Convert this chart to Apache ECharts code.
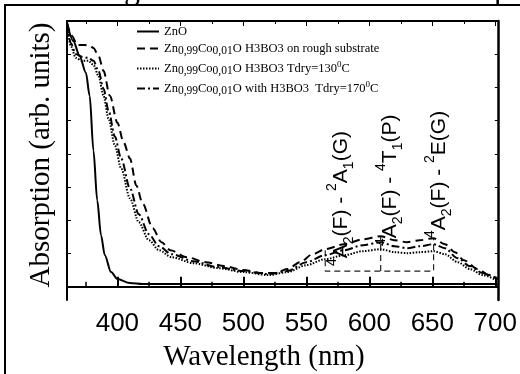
<!DOCTYPE html>
<html>
<head>
<meta charset="utf-8">
<script src="https://cdn.jsdelivr.net/npm/echarts@6/dist/echarts.min.js"></script>
<style>
	html, body { margin: 0; padding: 0; background: #fff; }
	#main { width: 520px; height: 374px; }
</style>
</head>
<body>
<div id="main"></div>
<script>
	// wavelength (nm) / absorption (arb. units)
	var znoX = [360, 365, 370, 375, 378, 381, 384, 387, 390, 395, 400, 410, 420, 450, 500, 550, 600, 650, 702];
	var znoY = [7.94, 7.4, 6.95, 6.44, 5.75, 4.1, 2.6, 1.55, 0.95, 0.44, 0.23, 0.11, 0.08, 0.08, 0.08, 0.08, 0.08, 0.08, 0.08];

	var roughX = [360, 364, 368, 374, 378, 381, 385, 389, 394, 400, 405, 410, 415, 420, 428, 435, 442, 455, 470, 485, 500, 515, 525, 535, 545, 555, 565, 580, 595, 609, 620, 630, 640, 651, 660, 668, 675, 686, 695, 702];
	var roughY = [7.94, 7.55, 7.28, 7.28, 7.25, 7.19, 6.95, 6.5, 5.75, 4.94, 4.34, 3.86, 3.05, 2.51, 1.76, 1.34, 1.1, 0.89, 0.74, 0.62, 0.5, 0.41, 0.41, 0.53, 0.74, 0.98, 1.13, 1.28, 1.43, 1.52, 1.4, 1.34, 1.4, 1.46, 1.28, 1.04, 0.8, 0.53, 0.35, 0.23];

	var t130X = [360, 363, 367, 372, 377, 381, 385, 389, 393, 398, 403, 410, 417, 425, 433, 443, 460, 480, 500, 520, 535, 550, 565, 580, 595, 609, 620, 630, 640, 651, 660, 670, 680, 690, 702];
	var t130Y = [7.94, 7.25, 6.89, 6.8, 6.8, 6.68, 6.35, 5.75, 5.06, 4.25, 3.56, 2.66, 1.94, 1.4, 1.1, 0.89, 0.71, 0.56, 0.44, 0.35, 0.44, 0.65, 0.83, 0.95, 1.07, 1.13, 1.04, 1.01, 1.04, 1.07, 0.98, 0.74, 0.53, 0.35, 0.17];

	var t170X = [360, 363, 367, 372, 377, 381, 385, 389, 393, 398, 403, 410, 417, 425, 433, 443, 460, 480, 500, 520, 535, 550, 565, 580, 595, 609, 620, 630, 640, 651, 660, 670, 680, 690, 702];
	var t170Y = [7.94, 7.34, 7.01, 6.92, 6.89, 6.8, 6.5, 5.96, 5.3, 4.52, 3.86, 2.96, 2.18, 1.58, 1.22, 0.98, 0.77, 0.59, 0.47, 0.38, 0.47, 0.74, 0.95, 1.1, 1.25, 1.34, 1.22, 1.16, 1.22, 1.28, 1.16, 0.86, 0.62, 0.41, 0.23];

	// dashed bracket under the three Co2+ bands
	var boxX = [565, 565, 651, 651];
	var boxY = [1.1, 0.47, 0.47, 1.46];
	var midX = [609, 609];
	var midY = [0.47, 1.52];

	var xMajor = [400, 450, 500, 550, 600, 650, 700];
	var xMinor = [375, 425, 475, 525, 575, 625, 675];
	var yTicks = [0, 1, 2, 3, 4, 5, 6, 7];

	var names = ['ZnO', 'rough', 't130', 't170'];
	var legendText = {
		'ZnO': '{m|ZnO}',
		'rough': '{m|Zn}{s|0,99}{m|Co}{s|0,01}{m|O H3BO3 on rough substrate}',
		't130': '{m|Zn}{s|0,99}{m|Co}{s|0,01}{m|O H3BO3 Tdry=130}{p|0}{m|C}',
		't170': '{m|Zn}{s|0,99}{m|Co}{s|0,01}{m|O with H3BO3  Tdry=170}{p|0}{m|C}'
	};

	var bandLabels = [
		'{p|4}{m|A}{b|2}{m|(F) - }{p|2}{m|A}{b|1}{m|(G)}',
		'{p|4}{m|A}{b|2}{m|(F) - }{p|4}{m|T}{b|1}{m|(P)}',
		'{p|4}{m|A}{b|2}{m|(F) - }{p|2}{m|E(G)}'
	];

	function pairs(xs, ys) {
		var out = [];
		for (var i = 0; i < xs.length; i++) {
			out.push([xs[i], ys[i]]);
		}
		return out;
	}

	var serif = '"Liberation Serif", "Times New Roman", serif';
	var sans = '"Liberation Sans", Arial, sans-serif';

	var bandRich = {
		m: { fontFamily: sans, fontSize: 21, color: '#000', lineHeight: 31, verticalAlign: 'middle' },
		p: { fontFamily: sans, fontSize: 14, color: '#000', lineHeight: 31, verticalAlign: 'top' },
		b: { fontFamily: sans, fontSize: 14, color: '#000', lineHeight: 31, verticalAlign: 'bottom' }
	};

	function bandText(txt, x, y) {
		return {
			type: 'text',
			x: x,
			y: y,
			rotation: Math.PI / 2,
			style: {
				text: txt,
				rich: bandRich,
				align: 'left',
				verticalAlign: 'middle',
				fill: '#000'
			}
		};
	}

	function lineSeries(name, data, type, width) {
		return {
			name: name,
			type: 'line',
			data: data,
			symbol: 'none',
			smooth: 0.3,
			smoothMonotone: 'x',
			itemStyle: { color: '#000' },
			lineStyle: { color: '#000', width: width, type: type },
			z: 3
		};
	}

	var myChart = echarts.init(document.getElementById('main'), null, { renderer: 'canvas' });

	var option = {
		animation: false,
		backgroundColor: '#fff',
		grid: { left: 67, right: 20, top: 21, bottom: 74 },
		legend: {
			data: names,
			orient: 'vertical',
			left: 131,
			top: 20,
			itemWidth: 22,
			itemHeight: 14,
			itemGap: 4,
			itemStyle: { color: 'rgba(0,0,0,0)', borderColor: 'rgba(0,0,0,0)', borderWidth: 0 },
			formatter: function(name) {
				return legendText[name];
			},
			textStyle: {
				fontFamily: serif,
				fontSize: 12.5,
				color: '#000',
				rich: {
					m: { fontFamily: serif, fontSize: 12.5, color: '#000', lineHeight: 16, verticalAlign: 'middle' },
					s: { fontFamily: serif, fontSize: 11.5, color: '#000', lineHeight: 16, verticalAlign: 'bottom' },
					p: { fontFamily: serif, fontSize: 9, color: '#000', lineHeight: 16, verticalAlign: 'top' }
				}
			}
		},
		xAxis: [
			{
				type: 'value', min: 360, max: 702, position: 'bottom',
				axisLine: { lineStyle: { color: '#000', width: 2 } },
				axisTick: { inside: true, length: 10, customValues: xMajor, lineStyle: { color: '#000', width: 2 } },
				axisLabel: { customValues: xMajor, margin: 11, fontFamily: sans, fontSize: 26, color: '#000' },
				splitLine: { show: false }
			},
			{
				type: 'value', min: 360, max: 702, position: 'bottom',
				axisLine: { show: false },
				axisTick: { inside: true, length: 5, customValues: xMinor, lineStyle: { color: '#000', width: 1.5 } },
				axisLabel: { show: false },
				splitLine: { show: false }
			},
			{
				type: 'value', min: 360, max: 702, position: 'top',
				axisLine: { lineStyle: { color: '#000', width: 2 } },
				axisTick: { inside: true, length: 5, customValues: xMajor, lineStyle: { color: '#000', width: 1 } },
				axisLabel: { show: false },
				splitLine: { show: false }
			},
			{
				type: 'value', min: 360, max: 702, position: 'top',
				axisLine: { show: false },
				axisTick: { inside: true, length: 3, customValues: xMinor, lineStyle: { color: '#000', width: 1 } },
				axisLabel: { show: false },
				splitLine: { show: false }
			}
		],
		yAxis: [
			{
				type: 'value', min: -0.4, max: 8, position: 'left',
				axisLine: { show: true, lineStyle: { color: '#000', width: 2 } },
				axisTick: { show: true, inside: true, length: 4, customValues: yTicks, lineStyle: { color: '#000', width: 1 } },
				axisLabel: { show: false },
				splitLine: { show: false }
			},
			{
				type: 'value', min: -0.4, max: 8, position: 'right',
				axisLine: { show: true, lineStyle: { color: '#000', width: 2.5 } },
				axisTick: { show: true, inside: true, length: 3, customValues: yTicks, lineStyle: { color: '#000', width: 1 } },
				axisLabel: { show: false },
				splitLine: { show: false }
			}
		],
		series: [
			lineSeries('ZnO', pairs(znoX, znoY), 'solid', 2),
			lineSeries('rough', pairs(roughX, roughY), [8, 5], 2),
			lineSeries('t130', pairs(t130X, t130Y), [1.5, 1.5], 2),
			lineSeries('t170', pairs(t170X, t170Y), [8, 3, 2, 3], 2),
			{
				type: 'line', data: pairs(boxX, boxY), symbol: 'none',
				lineStyle: { color: '#222', width: 1.2, type: [6, 4] }, z: 2
			},
			{
				type: 'line', data: pairs(midX, midY), symbol: 'none',
				lineStyle: { color: '#222', width: 1.2, type: [6, 4] }, z: 2
			}
		],
		graphic: [
			// outer frame of the figure
			{ type: 'rect', shape: { x: 5, y: 5, width: 530, height: 380 }, style: { fill: 'none', stroke: '#000', lineWidth: 2 }, silent: true },
			{ type: 'text', x: 124, y: -25, style: { text: 'g', font: '32px ' + serif, fill: '#000' } },
			{ type: 'text', x: 494, y: -25, style: { text: 'p', font: '32px ' + serif, fill: '#000' } },
			{
				type: 'text', x: 264, y: 357,
				style: { text: 'Wavelength (nm)', font: '29px ' + serif, fill: '#000', align: 'center', verticalAlign: 'middle' }
			},
			{
				type: 'text', x: 41, y: 155, rotation: Math.PI / 2,
				style: { text: 'Absorption (arb. units)', font: '29px ' + serif, fill: '#000', align: 'center', verticalAlign: 'middle' }
			},
			bandText(bandLabels[0], 341, 266),
			bandText(bandLabels[1], 390, 246),
			bandText(bandLabels[2], 439, 238)
		]
	};

	myChart.setOption(option);
</script>
</body>
</html>
